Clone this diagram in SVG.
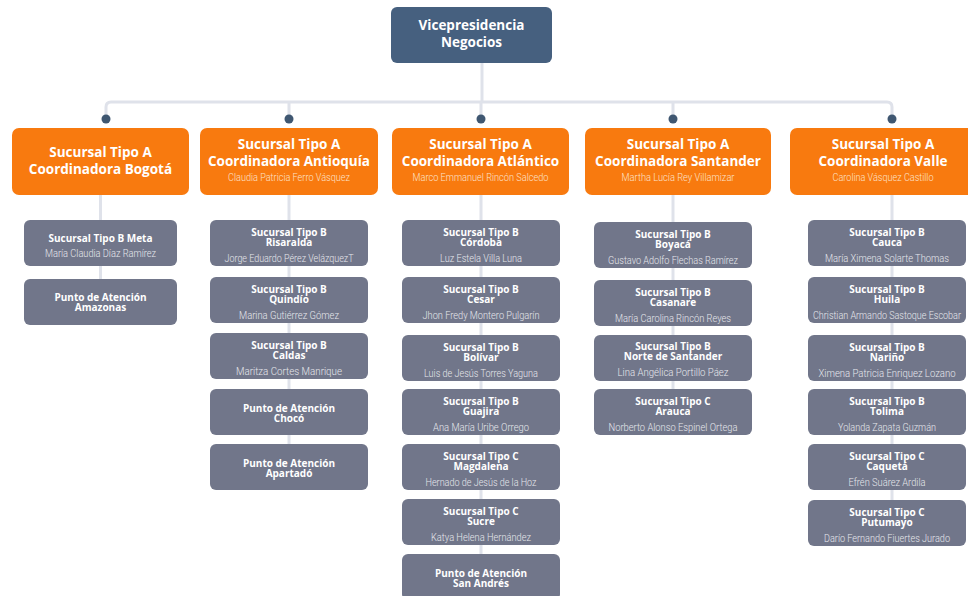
<svg xmlns="http://www.w3.org/2000/svg" width="968" height="596" viewBox="0 0 968 596">
<style>
.top{fill:#46607f}
.ora{fill:#f87a0f}
.gry{fill:#71768a}
.con{stroke:#dfe2ea;stroke-width:3;fill:none}
.dot{fill:#3f5771}
.t1{font-family:"Open Sans","Liberation Sans",sans-serif;font-weight:700;font-size:13.5px;fill:#ffffff;text-anchor:middle}
.t2{font-family:"Open Sans","Liberation Sans",sans-serif;font-weight:700;font-size:10px;fill:#ffffff;text-anchor:middle}
.n1{font-family:"Roboto","Liberation Sans",sans-serif;font-weight:300;font-size:10px;fill:#fde2cb;text-anchor:middle}
.n2{font-family:"Roboto","Liberation Sans",sans-serif;font-weight:300;font-size:10px;fill:#e6e7ec;text-anchor:middle}
</style>
<rect width="968" height="596" fill="#ffffff"/>
<g id="connectors">
<path class="con" d="M482 63V102"/>
<path class="con" d="M106 119V107Q106 102 111 102H887Q892 102 892 107V119"/>
<path class="con" d="M289 102V119M481 102V119M673 102V119"/>
<path class="con" d="M100.5 195V279"/>
<path class="con" d="M289 195V444"/>
<path class="con" d="M481 195V560"/>
<path class="con" d="M673 195V389"/>
<path class="con" d="M892 195V500"/>
<circle class="dot" cx="106" cy="119" r="4.5"/>
<circle class="dot" cx="289" cy="119" r="4.5"/>
<circle class="dot" cx="481" cy="119" r="4.5"/>
<circle class="dot" cx="673" cy="119" r="4.5"/>
<circle class="dot" cx="892" cy="119" r="4.5"/>
</g>
<g id="vp"><rect class="top" x="391" y="7" width="161" height="56" rx="6"/><text class="t1" x="471.5" y="30">Vicepresidencia</text><text class="t1" x="471.5" y="47">Negocios</text></g>
<g id="a-bogota"><rect class="ora" x="12" y="128" width="177" height="67" rx="7"/><text class="t1" x="100.5" y="157">Sucursal Tipo A</text><text class="t1" x="100.5" y="174">Coordinadora Bogotá</text></g>
<g id="a-antioquia"><rect class="ora" x="200" y="128" width="178" height="67" rx="7"/><text class="t1" x="289" y="149">Sucursal Tipo A</text><text class="t1" x="289" y="166">Coordinadora Antioquía</text><text class="n1" x="289" y="181" textLength="122" lengthAdjust="spacingAndGlyphs">Claudia Patricia Ferro Vásquez</text></g>
<g id="a-atlantico"><rect class="ora" x="392" y="128" width="177" height="67" rx="7"/><text class="t1" x="480.5" y="149">Sucursal Tipo A</text><text class="t1" x="480.5" y="166">Coordinadora Atlántico</text><text class="n1" x="480.5" y="181" textLength="136" lengthAdjust="spacingAndGlyphs">Marco Emmanuel Rincón Salcedo</text></g>
<g id="a-santander"><rect class="ora" x="585" y="128" width="186" height="67" rx="7"/><text class="t1" x="678" y="149">Sucursal Tipo A</text><text class="t1" x="678" y="166">Coordinadora Santander</text><text class="n1" x="678" y="181" textLength="113" lengthAdjust="spacingAndGlyphs">Martha Lucía Rey Villamizar</text></g>
<g id="a-valle"><rect class="ora" x="790" y="128" width="184" height="67" rx="7"/><text class="t1" x="883" y="149">Sucursal Tipo A</text><text class="t1" x="883" y="166">Coordinadora Valle</text><text class="n1" x="883" y="181" textLength="101" lengthAdjust="spacingAndGlyphs">Carolina Vásquez Castillo</text></g>

<g id="b-meta"><rect class="gry" x="24" y="220" width="153" height="46" rx="6"/><text class="t2" x="100.5" y="242">Sucursal Tipo B Meta</text><text class="n2" x="100.5" y="257" textLength="111" lengthAdjust="spacingAndGlyphs">María Claudia Díaz Ramírez</text></g>
<g id="p-amazonas"><rect class="gry" x="24" y="279" width="153" height="46" rx="6"/><text class="t2" x="100.5" y="300.5">Punto de Atención</text><text class="t2" x="100.5" y="311">Amazonas</text></g>

<g id="b-risaralda"><rect class="gry" x="210" y="220" width="158" height="46" rx="6"/><text class="t2" x="289" y="235.5">Sucursal Tipo B</text><text class="t2" x="289" y="246">Risaralda</text><text class="n2" x="289" y="262" textLength="129" lengthAdjust="spacingAndGlyphs">Jorge Eduardo Pérez VelázquezT</text></g>
<g id="b-quindio"><rect class="gry" x="210" y="277" width="158" height="46" rx="6"/><text class="t2" x="289" y="292.5">Sucursal Tipo B</text><text class="t2" x="289" y="303">Quindío</text><text class="n2" x="289" y="319" textLength="100" lengthAdjust="spacingAndGlyphs">Marina Gutiérrez Gómez</text></g>
<g id="b-caldas"><rect class="gry" x="210" y="333" width="158" height="46" rx="6"/><text class="t2" x="289" y="348.5">Sucursal Tipo B</text><text class="t2" x="289" y="359">Caldas</text><text class="n2" x="289" y="375" textLength="106" lengthAdjust="spacingAndGlyphs">Maritza Cortes Manrique</text></g>
<g id="p-choco"><rect class="gry" x="210" y="389" width="158" height="46" rx="6"/><text class="t2" x="289" y="411.5">Punto de Atención</text><text class="t2" x="289" y="422">Chocó</text></g>
<g id="p-apartado"><rect class="gry" x="210" y="444" width="158" height="46" rx="6"/><text class="t2" x="289" y="466.5">Punto de Atención</text><text class="t2" x="289" y="477">Apartadó</text></g>

<g id="b-cordoba"><rect class="gry" x="402" y="220" width="158" height="46" rx="6"/><text class="t2" x="481" y="235.5">Sucursal Tipo B</text><text class="t2" x="481" y="246">Córdoba</text><text class="n2" x="481" y="262" textLength="82" lengthAdjust="spacingAndGlyphs">Luz Estela Villa Luna</text></g>
<g id="b-cesar"><rect class="gry" x="402" y="277" width="158" height="46" rx="6"/><text class="t2" x="481" y="292.5">Sucursal Tipo B</text><text class="t2" x="481" y="303">Cesar</text><text class="n2" x="481" y="319" textLength="117" lengthAdjust="spacingAndGlyphs">Jhon Fredy Montero Pulgarín</text></g>
<g id="b-bolivar"><rect class="gry" x="402" y="335" width="158" height="46" rx="6"/><text class="t2" x="481" y="350.5">Sucursal Tipo B</text><text class="t2" x="481" y="361">Bolívar</text><text class="n2" x="481" y="377" textLength="114" lengthAdjust="spacingAndGlyphs">Luis de Jesús Torres Yaguna</text></g>
<g id="b-guajira"><rect class="gry" x="402" y="389" width="158" height="46" rx="6"/><text class="t2" x="481" y="404.5">Sucursal Tipo B</text><text class="t2" x="481" y="415">Guajira</text><text class="n2" x="481" y="431" textLength="96" lengthAdjust="spacingAndGlyphs">Ana María Uribe Orrego</text></g>
<g id="c-magdalena"><rect class="gry" x="402" y="444" width="158" height="46" rx="6"/><text class="t2" x="481" y="459.5">Sucursal Tipo C</text><text class="t2" x="481" y="470">Magdalena</text><text class="n2" x="481" y="486" textLength="111" lengthAdjust="spacingAndGlyphs">Hernado de Jesús de la Hoz</text></g>
<g id="c-sucre"><rect class="gry" x="402" y="499" width="158" height="46" rx="6"/><text class="t2" x="481" y="514.5">Sucursal Tipo C</text><text class="t2" x="481" y="525">Sucre</text><text class="n2" x="481" y="541" textLength="100" lengthAdjust="spacingAndGlyphs">Katya Helena Hernández</text></g>
<g id="p-sanandres"><rect class="gry" x="402" y="554" width="158" height="46" rx="6"/><text class="t2" x="481" y="576.5">Punto de Atención</text><text class="t2" x="481" y="587">San Andrés</text></g>

<g id="b-boyaca"><rect class="gry" x="594" y="222" width="158" height="46" rx="6"/><text class="t2" x="673" y="237.5">Sucursal Tipo B</text><text class="t2" x="673" y="248">Boyacá</text><text class="n2" x="673" y="264" textLength="130" lengthAdjust="spacingAndGlyphs">Gustavo Adolfo Flechas Ramírez</text></g>
<g id="b-casanare"><rect class="gry" x="594" y="280" width="158" height="46" rx="6"/><text class="t2" x="673" y="295.5">Sucursal Tipo B</text><text class="t2" x="673" y="306">Casanare</text><text class="n2" x="673" y="322" textLength="116" lengthAdjust="spacingAndGlyphs">María Carolina Rincón Reyes</text></g>
<g id="b-nortesantander"><rect class="gry" x="594" y="335" width="158" height="46" rx="6"/><text class="t2" x="673" y="349.5">Sucursal Tipo B</text><text class="t2" x="673" y="360">Norte de Santander</text><text class="n2" x="673" y="376" textLength="111" lengthAdjust="spacingAndGlyphs">Lina Angélica Portillo Páez</text></g>
<g id="c-arauca"><rect class="gry" x="594" y="389" width="158" height="46" rx="6"/><text class="t2" x="673" y="404.5">Sucursal Tipo C</text><text class="t2" x="673" y="415">Arauca</text><text class="n2" x="673" y="431" textLength="129" lengthAdjust="spacingAndGlyphs">Norberto Alonso Espinel Ortega</text></g>

<g id="b-cauca"><rect class="gry" x="808" y="220" width="158" height="46" rx="6"/><text class="t2" x="887" y="235.5">Sucursal Tipo B</text><text class="t2" x="887" y="246">Cauca</text><text class="n2" x="887" y="262" textLength="124" lengthAdjust="spacingAndGlyphs">María Ximena Solarte Thomas</text></g>
<g id="b-huila"><rect class="gry" x="808" y="277" width="158" height="46" rx="6"/><text class="t2" x="887" y="292.5">Sucursal Tipo B</text><text class="t2" x="887" y="303">Huila</text><text class="n2" x="887" y="319" textLength="148" lengthAdjust="spacingAndGlyphs">Christian Armando Sastoque Escobar</text></g>
<g id="b-narino"><rect class="gry" x="808" y="335" width="158" height="46" rx="6"/><text class="t2" x="887" y="350.5">Sucursal Tipo B</text><text class="t2" x="887" y="361">Nariño</text><text class="n2" x="887" y="377" textLength="137" lengthAdjust="spacingAndGlyphs">Ximena Patricia Enriquez Lozano</text></g>
<g id="b-tolima"><rect class="gry" x="808" y="389" width="158" height="46" rx="6"/><text class="t2" x="887" y="404.5">Sucursal Tipo B</text><text class="t2" x="887" y="415">Tolima</text><text class="n2" x="887" y="431" textLength="98" lengthAdjust="spacingAndGlyphs">Yolanda Zapata Guzmán</text></g>
<g id="c-caqueta"><rect class="gry" x="808" y="444" width="158" height="46" rx="6"/><text class="t2" x="887" y="459.5">Sucursal Tipo C</text><text class="t2" x="887" y="470">Caquetá</text><text class="n2" x="887" y="486" textLength="77" lengthAdjust="spacingAndGlyphs">Efrén Suárez Ardila</text></g>
<g id="c-putumayo"><rect class="gry" x="808" y="500" width="158" height="46" rx="6"/><text class="t2" x="887" y="515.5">Sucursal Tipo C</text><text class="t2" x="887" y="526">Putumayo</text><text class="n2" x="887" y="542" textLength="126" lengthAdjust="spacingAndGlyphs">Darío Fernando Fiuertes Jurado</text></g>
</svg>
